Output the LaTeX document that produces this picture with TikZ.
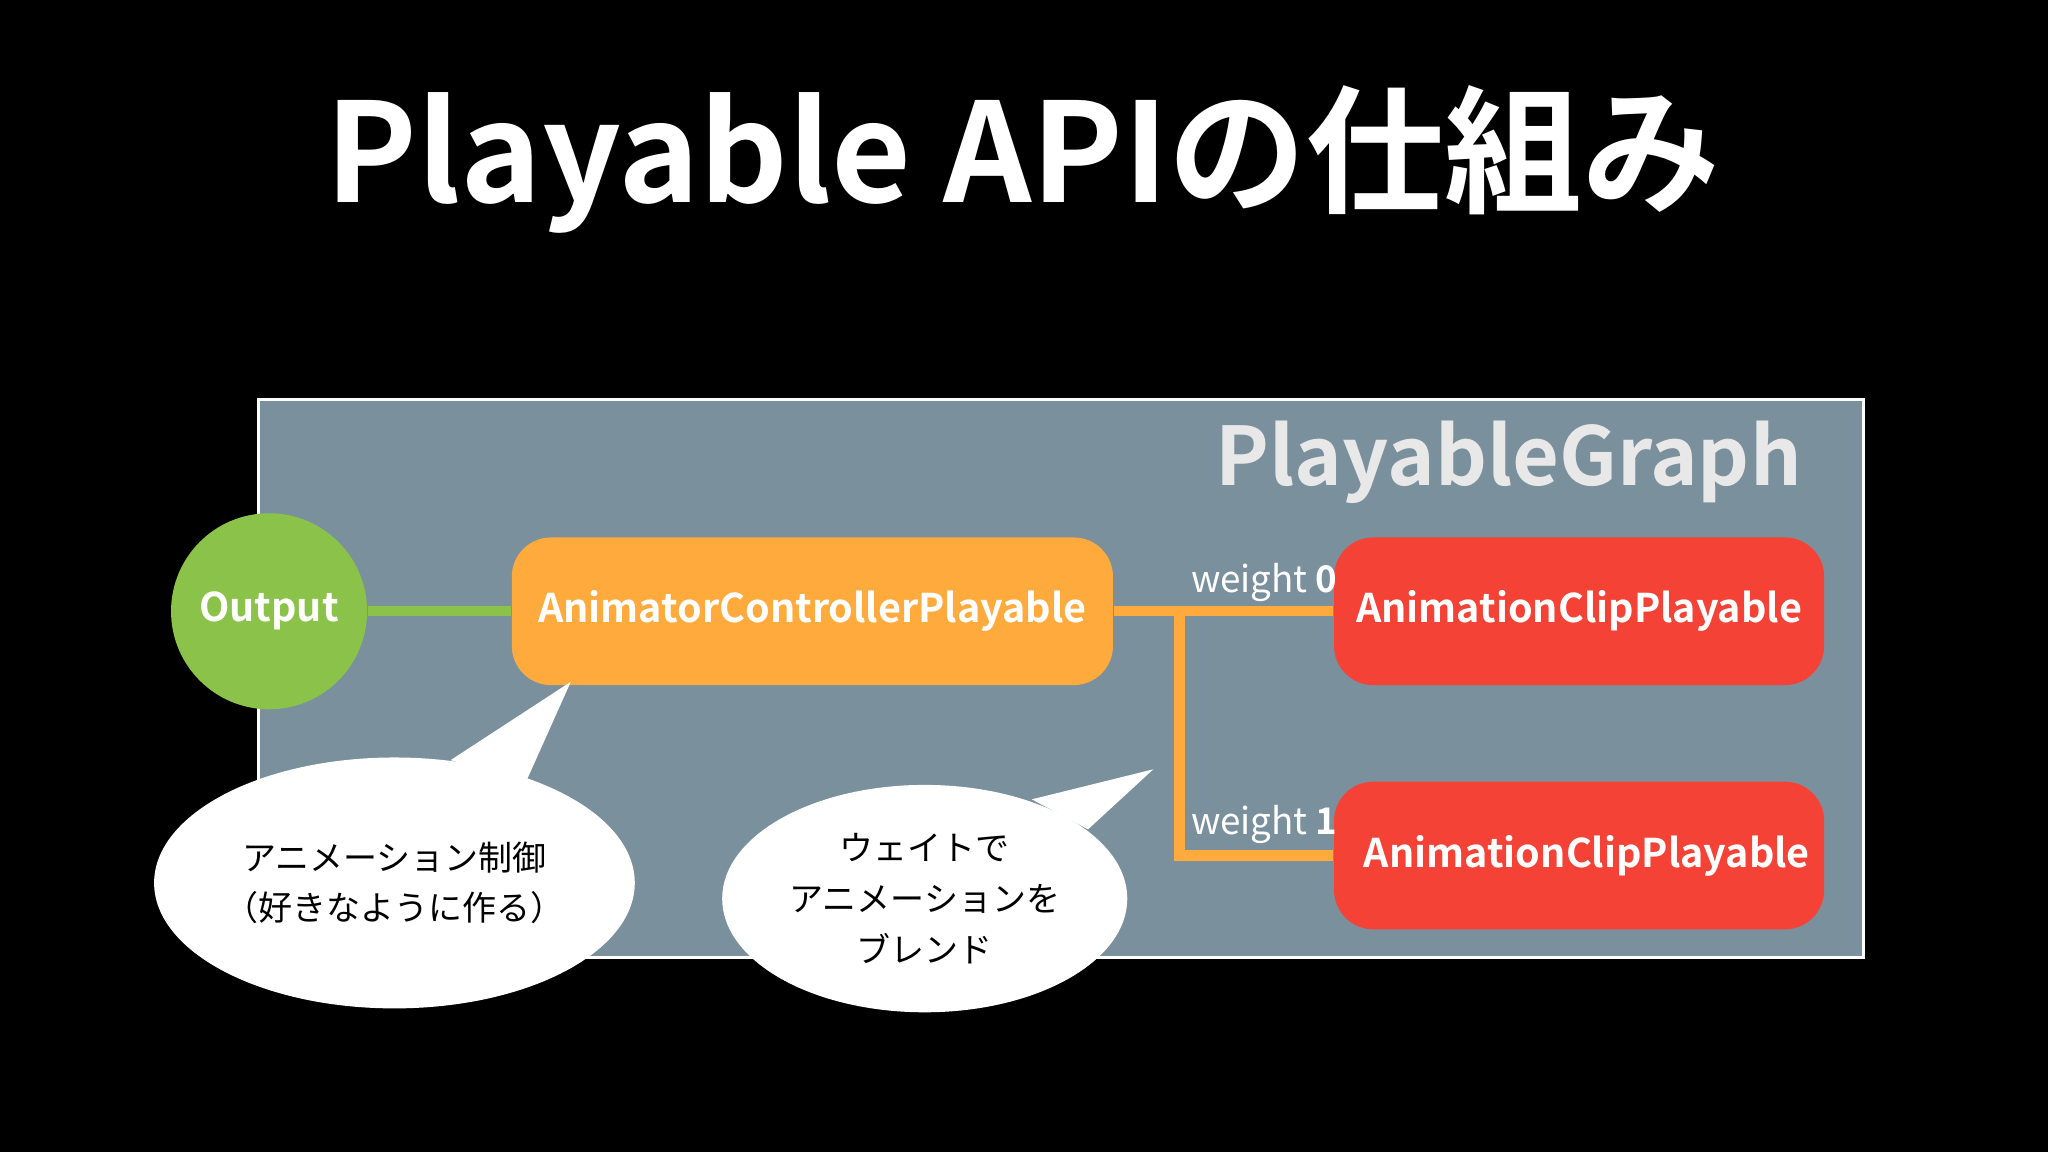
\documentclass[tikz,border=0pt]{standalone}
\usepackage{fontspec}
\setmainfont{Noto Sans CJK JP}[BoldFont={Noto Sans CJK JP Bold}]
\usetikzlibrary{shapes,positioning}
\definecolor{graphbg}{HTML}{7A909C}
\definecolor{outgreen}{HTML}{8BC34A}
\definecolor{ctrlorange}{HTML}{FFAA3C}
\definecolor{clipred}{HTML}{F44336}
\definecolor{graphtxt}{HTML}{E8E8E8}

\begin{document}
\begin{tikzpicture}[x=0.01cm,y=-0.01cm,% image pixel coordinates
			every node/.style={align=center,text=white,font=\bfseries\fontsize{8.6}{10}\selectfont},
			box/.style={rectangle,rounded corners=0.3cm,minimum height=1.13cm,inner sep=0pt},
			link/.style={line width=0.08cm},
			bubble/.style={ellipse,fill=white,text=black,font=\fontsize{7.4}{11}\selectfont,inner sep=0pt}
		]
		\fill[black] (0,0) rectangle (1568,882);
		\node (Title) at (783,122) {\fontsize{30}{34}\selectfont Playable APIの仕組み};
		\fill[graphbg] (198,306) rectangle (1427,733);
		\draw[white,line width=0.6pt] (198,306) rectangle (1427,733);
		\node[text=graphtxt] (GraphName) at (1155,354) {\fontsize{17.6}{20}\selectfont PlayableGraph};
		\node[circle,fill=outgreen,minimum size=1.5cm,inner sep=0pt] (Out) at (206,468) {Output};
		\node[box,fill=ctrlorange,minimum width=4.6cm] (Ctrl) at (622,468) {AnimatorControllerPlayable};
		\node[box,fill=clipred,minimum width=3.75cm] (Clip0) at (1209,468) {AnimationClipPlayable};
		\node[box,fill=clipred,minimum width=3.75cm] (Clip1) at (1209,655) {\hspace{0.12cm}AnimationClipPlayable};
		\coordinate (Split) at (903,468);
		\coordinate (Turn) at (903,655);
		\draw[link,outgreen] (Out) -- (Ctrl);
		\draw[link,ctrlorange] (Ctrl) -- (Clip0);
		\draw[link,ctrlorange] (Split) -- (Turn) -- (Clip1);
		\node[font=\fontsize{8}{10}\selectfont] (W0) at (968,446) {\mdseries weight \bfseries 0};
		\node[font=\fontsize{8}{10}\selectfont] (W1) at (968,631) {\mdseries weight \bfseries 1};
		% speech bubbles
		\fill[white] (345,582) -- (437,522) -- (403,598) -- cycle;
		\node[bubble,minimum width=3.42cm,minimum height=1.92cm] (Note1) at (302,676) {アニメーション制御\\（好きなように作る）};
		\fill[white] (790,612) -- (883,589) -- (833,635) -- cycle;
		\node[bubble,minimum width=3.1cm,minimum height=1.74cm] (Note2) at (708,688) {ウェイトで\\アニメーションを\\ブレンド};
	\end{tikzpicture}
\end{document}
